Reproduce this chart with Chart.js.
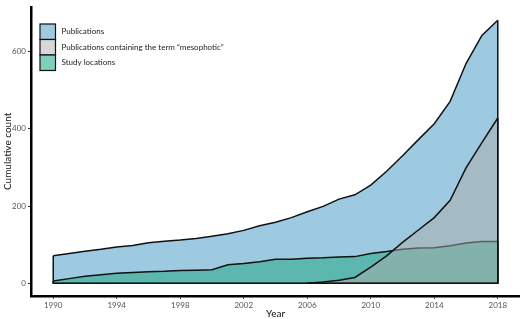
<!DOCTYPE html>
<html>
<head>
<meta charset="utf-8">
<script src="https://cdn.jsdelivr.net/npm/chart.js@4/dist/chart.umd.min.js"></script>
<style>
  html, body { margin: 0; padding: 0; background: #fff; }
  #c { display: block; }
</style>
</head>
<body>
<canvas id="c" width="520" height="319"></canvas>
<script>
// Roky a kumulativní počty
const years = [1990, 1991, 1992, 1993, 1994, 1995, 1996, 1997, 1998, 1999,
    2000, 2001, 2002, 2003, 2004, 2005, 2006, 2007, 2008, 2009,
    2010, 2011, 2012, 2013, 2014, 2015, 2016, 2017, 2018];
const publications = [71, 77, 83, 88, 94, 98, 105, 109, 112, 116,
    122, 128, 137, 149, 158, 170, 185, 199, 218, 229,
    254, 290, 330, 372, 413, 471, 569, 642, 681];
const mesophotic = [null, null, null, null, null, null, null, null, null, null,
    null, null, null, null, null, null, 0, 3, 8, 15,
    42, 71, 106, 138, 170, 215, 299, 364, 428];
const studyLocations = [6, 12, 18, 22, 26, 28, 30, 31, 33, 34,
    35, 48, 51, 56, 62, 62, 65, 66, 68, 69,
    77, 82, 88, 91, 92, 97, 104, 108, 108];
const xTicks = [1990, 1994, 1998, 2002, 2006, 2010, 2014, 2018];
const yTicks = [0, 200, 400, 600];

const pts = (vals) => years.map((y, i) => ({ x: y, y: vals[i] }));

// Obrys plochy: svislé hrany na začátku/konci a základna v nule
const areaEdges = {
    id: 'areaEdges',
    afterDatasetDraw(chart, args) {
        const meta = chart.getDatasetMeta(args.index);
        const ds = chart.data.datasets[args.index];
        const els = meta.data.filter((el, i) => ds.data[i].y !== null);
        if (!els.length) return;
        const y0 = chart.scales.y.getPixelForValue(0);
        const a = els[0], b = els[els.length - 1];
        const ctx = chart.ctx;
        ctx.save();
        ctx.strokeStyle = '#111';
        ctx.lineWidth = 1.5;
        ctx.lineJoin = 'round';
        ctx.beginPath();
        ctx.moveTo(a.x, a.y);
        ctx.lineTo(a.x, y0);
        ctx.lineTo(b.x, y0);
        ctx.lineTo(b.x, b.y);
        ctx.stroke();
        ctx.restore();
    },
};

// Legenda uvnitř plochy grafu, políčka na sebe navazují
const boxLegend = {
    id: 'boxLegend',
    afterDraw(chart) {
        const ctx = chart.ctx;
        const x = 40, y = 24, s = 15.5;
        ctx.save();
        ctx.font = '8px Lato';
        ctx.textBaseline = 'middle';
        chart.data.datasets.forEach((ds, i) => {
            ctx.fillStyle = ds.keyColor;
            ctx.fillRect(x, y + i * s, s, s);
            ctx.strokeStyle = '#111';
            ctx.lineWidth = 1.2;
            ctx.strokeRect(x, y + i * s, s, s);
            ctx.fillStyle = '#222';
            ctx.fillText(ds.label, x + s + 6, y + i * s + s / 2);
        });
        ctx.restore();
    },
};

new Chart(document.getElementById('c'), {
    type: 'line',
    data: {
        datasets: [
            {
                label: 'Publications',
                data: pts(publications),
                backgroundColor: 'rgb(158,202,225)',
                keyColor: 'rgb(158,202,225)',
                order: 3,
            },
            {
                label: 'Publications containing the term \u201cmesophotic\u201d',
                data: pts(mesophotic),
                backgroundColor: 'rgba(170,170,170,0.5)',
                keyColor: 'rgb(216,216,216)',
                order: 1,
            },
            {
                label: 'Study locations',
                data: pts(studyLocations),
                backgroundColor: 'rgba(70,178,156,0.75)',
                keyColor: 'rgb(128,206,188)',
                order: 2,
            },
        ].map((d) => Object.assign(d, {
            fill: 'origin', borderColor: '#111', borderWidth: 1.5,
            pointRadius: 0, tension: 0, spanGaps: false,
        })),
    },
    options: {
        responsive: false,
        animation: false,
        devicePixelRatio: 1,
        layout: { padding: 0 },
        plugins: { legend: { display: false }, tooltip: { enabled: false } },
        scales: {
            x: {
                type: 'linear', min: 1988.6, max: 2019.4,
                afterBuildTicks: (s) => { s.ticks = xTicks.map((v) => ({ value: v })); },
                afterFit: (s) => { s.height = 23; },
                grid: { drawOnChartArea: false, tickLength: 3, tickColor: '#333' },
                border: { display: true, color: '#000', width: 2.5 },
                ticks: { color: '#555', font: { family: 'Lato', size: 8 }, padding: 2, maxRotation: 0, callback: (v) => String(v) },
                title: { display: true, text: 'Year', color: '#111', font: { family: 'Lato', size: 10 }, padding: { top: 0, bottom: -1 } },
            },
            y: {
                min: -33, max: 716,
                afterBuildTicks: (s) => { s.ticks = yTicks.map((v) => ({ value: v })); },
                afterFit: (s) => { s.width = 31; },
                grid: { drawOnChartArea: false, tickLength: 3, tickColor: '#333' },
                border: { display: true, color: '#000', width: 2.5 },
                ticks: { color: '#555', font: { family: 'Lato', size: 8 }, padding: 2, callback: (v) => String(v) },
                title: { display: true, text: 'Cumulative count', color: '#111', font: { family: 'Lato', size: 10 }, padding: { top: 2, bottom: 0 } },
            },
        },
    },
    plugins: [areaEdges, boxLegend],
});
</script>
</body>
</html>
